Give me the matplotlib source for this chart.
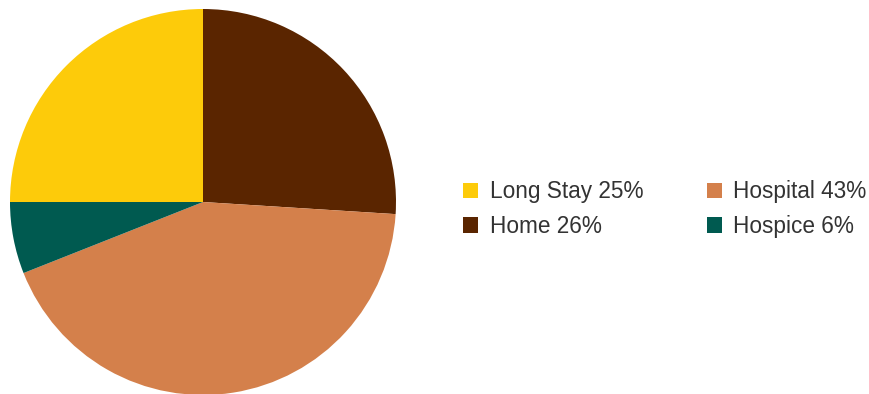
import matplotlib
matplotlib.use("Agg")
import matplotlib.pyplot as plt
from matplotlib.patches import Patch

plt.rcParams['font.family'] = ['Liberation Sans', 'DejaVu Sans']

categories = ["Home", "Hospital", "Hospice", "Long Stay"]
shares = [26, 43, 6, 25]
colors = ["#5A2500", "#D4804B", "#005A50", "#FDCB0A"]

legend_order = ["Long Stay", "Home", "Hospital", "Hospice"]

W, H = 869, 394
fig = plt.figure(figsize=(W / 100, H / 100), dpi=100)

cx, cy, r = 203, 202, 193
ax = fig.add_axes([(cx - r) / W, (H - cy - r) / H, 2 * r / W, 2 * r / H])
ax.pie(shares, colors=colors, startangle=90, counterclock=False,
       wedgeprops=dict(linewidth=0))
ax.set_aspect('equal')
ax.set_xlim(-1, 1)
ax.set_ylim(-1, 1)
ax.axis('off')

handles = []
for name in legend_order:
    i = categories.index(name)
    handles.append(Patch(facecolor=colors[i], edgecolor='none',
                         label=f"{name} {shares[i]}%"))

fig.legend(handles=handles, ncol=2, loc='center left',
           bbox_to_anchor=(463 / W, 1 - 209 / H), frameon=False,
           borderaxespad=0, borderpad=0,
           fontsize=16.3, labelcolor='#333333', handlelength=0.68,
           handleheight=0.68, handletextpad=0.5, columnspacing=2.8,
           labelspacing=0.5)

fig.savefig("out.png", dpi=100)
